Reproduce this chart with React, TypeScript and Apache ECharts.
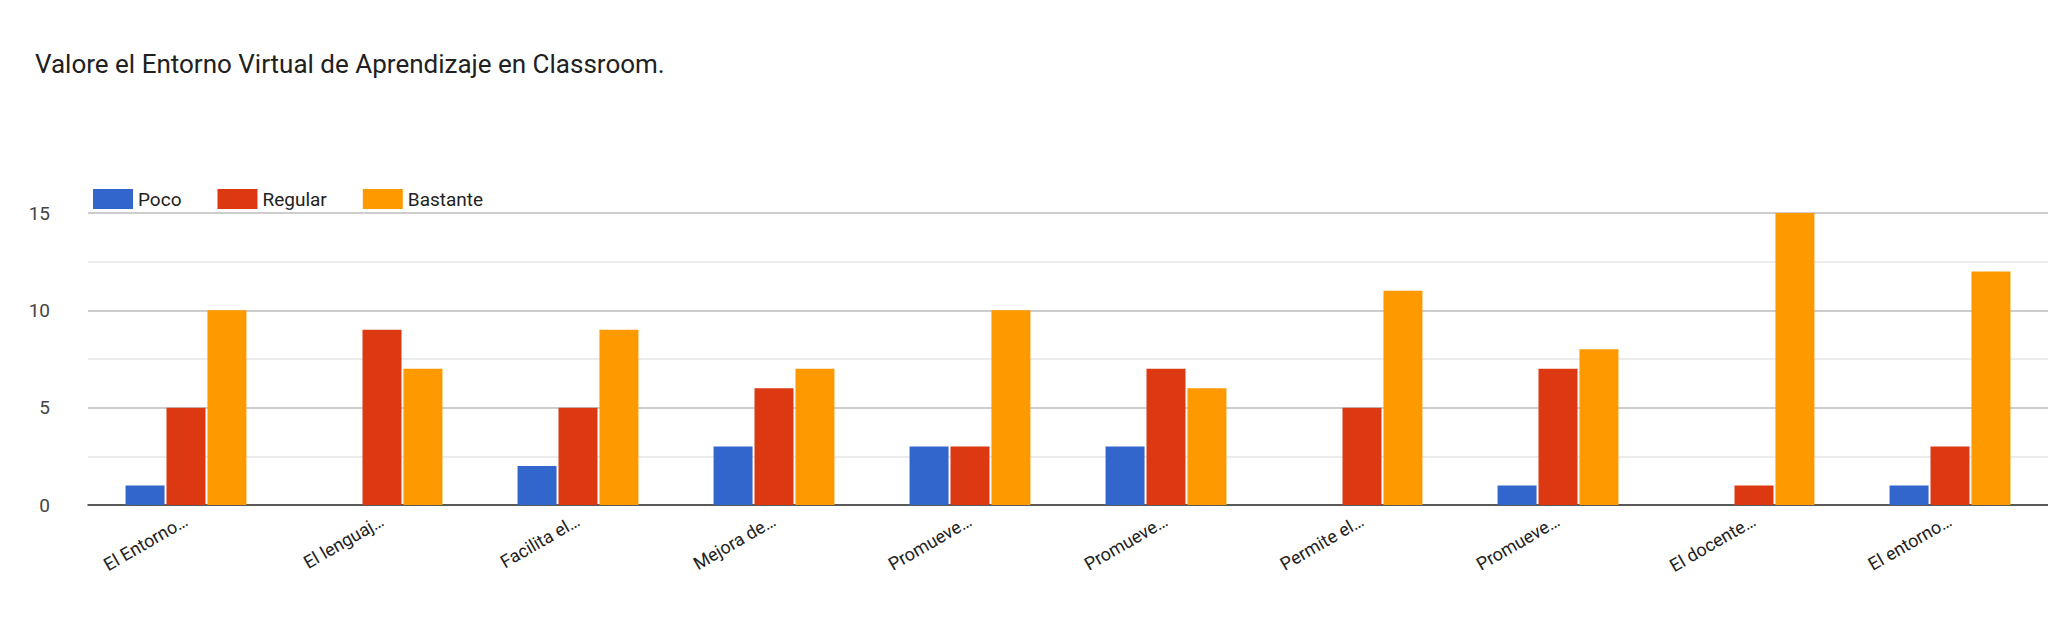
import React, { useEffect, useRef } from "react";
import * as echarts from "echarts";

const categories = [
  "El Entorno…",
  "El lenguaj…",
  "Facilita el…",
  "Mejora de…",
  "Promueve…",
  "Promueve…",
  "Permite el…",
  "Promueve…",
  "El docente…",
  "El entorno…",
];
const poco = [1, 0, 2, 3, 3, 3, 0, 1, 0, 1];
const regular = [5, 9, 5, 6, 3, 7, 5, 7, 1, 3];
const bastante = [10, 7, 9, 7, 10, 6, 11, 8, 15, 12];

const App: React.FC = () => {
  const chartRef = useRef<HTMLDivElement>(null);

  useEffect(() => {
    if (!chartRef.current) return;
    const chart = echarts.init(chartRef.current, null, { renderer: "svg" });
    const font = "Roboto, Arial, sans-serif";
    const bar = (name: string, data: number[], color: string) => ({
      name,
      type: "bar",
      data,
      barWidth: 39,
      barGap: "5%",
      itemStyle: { color },
    });

    chart.setOption({
      animation: false,
      title: {
        text: "Valore el Entorno Virtual de Aprendizaje en Classroom.",
        left: 30,
        top: 46,
        textStyle: { fontFamily: font, fontSize: 26, fontWeight: "normal", color: "#212121" },
      },
      legend: {
        left: 88,
        top: 184,
        itemWidth: 40,
        itemHeight: 20,
        itemGap: 36,
        icon: "rect",
        textStyle: { fontFamily: font, fontSize: 19, color: "#222" },
      },
      grid: { left: 88, right: 0, top: 213, bottom: 133 },
      xAxis: {
        type: "category",
        data: categories,
        axisTick: { show: false },
        axisLine: { lineStyle: { color: "#333", width: 1.5 } },
        axisLabel: {
          rotate: 30,
          interval: 0,
          margin: 14,
          fontFamily: font,
          fontSize: 18,
          color: "#222",
        },
      },
      yAxis: {
        type: "value",
        min: 0,
        max: 15,
        interval: 2.5,
        axisLabel: {
          fontFamily: font,
          fontSize: 19,
          color: "#444",
          margin: 38,
          formatter: (v: number) => (v % 5 === 0 ? String(v) : ""),
        },
        splitLine: { lineStyle: { color: ["#bdbdbd", "#e6e6e6"], width: 1.5 } },
      },
      series: [
        bar("Poco", poco, "#3366cc"),
        bar("Regular", regular, "#dc3912"),
        bar("Bastante", bastante, "#ff9900"),
      ],
    });

    return () => chart.dispose();
  }, []);

  return (
    <div
      ref={chartRef}
      style={{ position: "fixed", left: 0, top: 0, width: "100vw", height: "100vh", background: "#fff" }}
    />
  );
};

export default App;
